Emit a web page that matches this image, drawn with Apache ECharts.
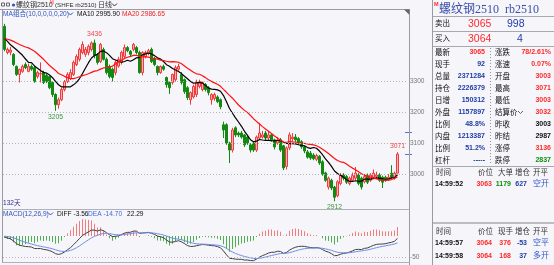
<!DOCTYPE html>
<html><head><meta charset="utf-8">
<script src="https://cdn.jsdelivr.net/npm/echarts@6/dist/echarts.min.js"></script>
<style>html,body{margin:0;padding:0;background:#f5f5fa;}#c{width:554px;height:265px;}</style>
</head><body><div id="c"></div>
<script>
// ---- data ----
const open = [3479,3394,3395,3388,3349,3323,3333,3355,3333,3349, 3345,3316,3324,3329,3320,3316,3297,3258,3225,3241, 3274,3300,3310,3323,3355,3372,3394,3388,3394,3404, 3425,3388,3365,3404,3372,3349,3340,3329,3350,3362, 3381,3410,3398,3404,3410,3394,3329,3381,3390,3404, 3375,3349,3329,3349,3313,3297,3297,3306,3340,3323, 3306,3280,3241,3250,3258,3284,3274,3290,3280,3241, 3245,3250,3241,3160,3160,3101,3078,3150,3133,3133, 3127,3120,3095,3101,3078,3117,3120,3133,3117,3127, 3111,3101,3111,3092,3025,3085,3115,3120,3115,3105, 3088,3072,3068,3062,3048,3058,3040,3004,2958,2980, 2958,2930,2970,2997,2992,2970,2980,2987,2997,2987, 2975,2995,2980,2990,2992,2997,2990,2990,2982,3003, 2990,3003];
const close = [3404,3404,3402,3355,3323,3339,3349,3345,3349,3340, 3300,3329,3326,3297,3300,3280,3258,3225,3241,3274, 3300,3323,3329,3362,3381,3404,3420,3404,3414,3425, 3385,3362,3420,3372,3329,3316,3313,3362,3372,3394, 3410,3400,3388,3420,3394,3329,3394,3394,3400,3365, 3355,3329,3349,3340,3290,3280,3323,3345,3349,3297, 3267,3248,3264,3284,3297,3300,3297,3274,3264,3258, 3258,3235,3218,3143,3101,3078,3143,3127,3127,3120, 3095,3101,3078,3078,3120,3133,3127,3117,3127,3111, 3088,3111,3078,3020,3085,3127,3120,3111,3101,3088, 3075,3055,3052,3050,3060,3036,3000,2980,2987,2955, 2925,2975,2997,2987,2974,2987,2995,3003,2970,2958, 2992,2974,2997,3003,2997,2980,2974,2980,2990,2990, 3003,3065];
const low = [3398,3388,3385,3350,3318,3297,3328,3340,3330,3335, 3296,3310,3297,3292,3295,3275,3250,3205,3212,3236, 3268,3295,3305,3318,3350,3365,3388,3380,3385,3398, 3375,3355,3360,3368,3323,3310,3300,3320,3345,3355, 3375,3395,3380,3398,3388,3325,3320,3375,3385,3360, 3350,3320,3325,3335,3280,3260,3290,3300,3335,3290, 3260,3240,3225,3245,3250,3278,3268,3268,3255,3225, 3238,3230,3210,3117,3095,3036,3070,3120,3120,3115, 3088,3095,3070,3072,3072,3110,3115,3110,3110,3105, 3080,3095,3072,3013,3015,3078,3105,3105,3095,3082, 3068,3050,3046,3045,3042,3030,2995,2975,2950,2948, 2912,2925,2964,2980,2968,2964,2975,2980,2964,2950, 2970,2968,2975,2985,2985,2975,2955,2975,2978,2985, 2982,3003];
const high = [3487,3410,3412,3392,3352,3342,3355,3362,3358,3355, 3350,3335,3362,3335,3325,3320,3300,3262,3248,3280, 3305,3330,3340,3368,3388,3410,3430,3412,3420,3430, 3436,3392,3425,3410,3378,3355,3345,3368,3380,3400, 3420,3415,3402,3425,3415,3400,3398,3400,3406,3410, 3380,3352,3352,3355,3316,3300,3326,3352,3358,3330, 3310,3285,3268,3290,3306,3306,3300,3295,3285,3262, 3264,3255,3245,3170,3165,3105,3150,3155,3138,3140, 3130,3125,3100,3105,3125,3166,3140,3140,3140,3133, 3115,3120,3117,3095,3090,3135,3133,3130,3120,3110, 3092,3078,3075,3068,3066,3062,3045,3008,2992,2985, 2962,2980,3003,3003,2997,2992,3005,3023,3003,2992, 3000,3002,3003,3015,3008,3003,2995,2995,3000,3029, 3008,3071];
// moving-average values before a full window exists
const ma10Head = [3440,3430,3419,3411,3403,3394,3385,3373,3362];
const ma20Head = [3440,3437,3434,3430,3425,3420,3416,3412,3409,3404,3398,3390,3381,3372,3362,3352,3344,3336,3326];
const priceTicks = [3000,3100,3200,3300];
const macdTicks = [0,-50];
const markHighIdx = [30,131];
const markLowIdx = [17,110];
const limitUp = 3136, lastPrice = 3065;

// ---- derived ----
const N = close.length;
const PAD = 3;
const cats = [];
for (let i = 0; i < N + PAD; i++) cats.push('d' + i);
function ma(n, head) {
  return close.map((c, i) => {
    if (i < n - 1) return head[i];
    let s = 0; for (let k = i - n + 1; k <= i; k++) s += close[k];
    return +(s / n).toFixed(2);
  });
}
const ma10 = ma(10, ma10Head), ma20 = ma(20, ma20Head);
// EMAs start from the average level shown by the MA lines at the first bar
let e12 = ma10Head[0], e26 = ma20Head[0], dea = e12 - e26;
const diff = [], deaArr = [], hist = [];
close.forEach((c) => {
  e12 += (c - e12) * 2 / 13; e26 += (c - e26) * 2 / 27;
  const d = e12 - e26;
  dea += (d - dea) * 2 / 10;
  diff.push(+d.toFixed(2)); deaArr.push(+dea.toFixed(2)); hist.push(+(2 * (d - dea)).toFixed(2));
});
const kData = open.map((o, i) => [o, close[i], low[i], high[i]]);

// ---- text helpers ----
const FF = '"Liberation Sans","Noto Sans CJK SC",sans-serif';
const RED = '#ff2a2a', BLUE = '#2340a8', GREEN = '#0a8f0a', BLK = '#111';
function T(x, y, text, fill, size, o) {
  return Object.assign({ type: 'text', x: x, y: y, silent: true, z: 100,
    style: Object.assign({ text: text, fill: fill, fontSize: size, fontFamily: FF, align: 'left', verticalAlign: 'middle' }, (o && o.style) || {}) }, (o && o.el) || {});
}
function L(x1, y1, x2, y2, stroke, st) {
  return { type: 'line', silent: true, z: 100, shape: { x1: x1, y1: y1, x2: x2, y2: y2 }, style: Object.assign({ stroke: stroke, lineWidth: 1 }, st || {}) };
}
function chev(x, y, c) {
  return { type: 'polyline', silent: true, z: 100, shape: { points: [[x, y - 1.5], [x + 2.5, y + 1], [x + 5, y - 1.5]] }, style: { stroke: c, lineWidth: 1, fill: null } };
}
const g = [];
// header
g.push({ type: 'rect', silent: true, z: 100, shape: { x: 1.5, y: 3, width: 3, height: 3 }, style: { stroke: '#666', fill: null, lineWidth: 1 } });
g.push({ type: 'rect', silent: true, z: 100, shape: { x: 6.5, y: 3, width: 3, height: 3 }, style: { stroke: '#666', fill: null, lineWidth: 1 } });
g.push({ type: 'circle', silent: true, z: 100, shape: { cx: 13.5, cy: 5, r: 1.6 }, style: { fill: '#2a55c8' } });
g.push(T(16, 5, '螺纹钢2510', '#333', 7));
g.push(T(50, 3, 'M', RED, 4.5));
g.push(T(55, 5, '(SHFE rb2510)', '#333', 6.2));
g.push(T(98, 5, '日线', '#333', 7));
g.push(chev(112, 5, '#333'));
g.push(T(3, 14, 'MA组合(10,0,0,0,0,20)', '#3355bb', 6.6));
g.push(chev(68, 14, '#3355bb'));
g.push(T(77, 14, 'MA10 2995.90', BLK, 6.6));
g.push(T(122, 14, 'MA20 2986.65', '#ee2020', 6.6));
g.push(T(3, 203, '132天', '#303090', 6.6));
g.push(T(3, 214, 'MACD(12,26,9)', '#3355bb', 6.6));
g.push(chev(48, 214, '#3355bb'));
g.push(T(57, 214, 'DIFF -3.56', BLK, 6.6));
g.push(T(88, 214, 'DEA -14.70', '#4466dd', 6.6));
g.push(T(127, 214, '22.29', BLK, 6.6));
// frame
g.push(L(0, 9.5, 409.5, 9.5, '#9a9aa2'));
g.push(L(409.5, 9, 409.5, 265, '#9a9aa2'));
g.push(L(2.5, 9, 2.5, 263, '#9a9aa2'));
g.push(L(2, 209.5, 409.5, 209.5, '#b0b0b8'));
g.push(L(2, 262.5, 409.5, 262.5, '#b0b0b8'));
g.push({ type: 'polygon', silent: true, z: 100, shape: { points: [[404, 9.5], [409.5, 9.5], [409.5, 15]] }, style: { fill: '#666' } });
// right panel
g.push(L(432.5, 0, 432.5, 265, '#9a9aa2'));
g.push(T(434, 4.5, 'M', RED, 5.5, { style: { fontWeight: 'bold' } }));
g.push(T(439, 9.5, '螺纹钢2510  rb2510', '#3a4fa8', 12, { style: { fontFamily: '"Liberation Serif","Noto Sans CJK SC",serif' } }));
g.push(L(433, 16.5, 554, 16.5, '#a8a8b0'));
g.push(T(435, 24, '卖出', BLK, 7.5));
g.push(T(468, 24, '3065', RED, 10.5));
g.push(T(507, 24, '998', BLUE, 10.5));
g.push(L(433, 31.5, 554, 31.5, '#a8a8b0'));
g.push(T(435, 39, '买入', BLK, 7.5));
g.push(T(468, 39, '3064', RED, 10.5));
g.push(T(517, 39, '4', BLUE, 10.5));
g.push(L(433, 46.5, 554, 46.5, '#a8a8b0'));
const rows = [
  ['最新', '3065', RED, '涨跌', '78/2.61%', RED],
  ['现手', '92', BLUE, '涨速', '0.07%', RED],
  ['总量', '2371284', BLUE, '开盘', '3003', RED],
  ['持仓', '2226379', BLUE, '最高', '3071', RED],
  ['日增', '150312', BLUE, '最低', '3003', RED],
  ['外盘', '1157897', BLUE, '结算价', '3032', RED],
  ['比例', '48.8%', BLUE, '昨收', '3003', BLK],
  ['内盘', '1213387', BLUE, '昨结', '2987', BLK],
  ['比例', '51.2%', BLUE, '涨停', '3136', RED],
  ['杠杆', '-----', BLUE, '跌停', '2837', GREEN]
];
rows.forEach((r, k) => {
  const y = 52.5 + 12 * k;
  g.push(T(435, y, r[0], BLK, 7.5));
  g.push(T(485, y, r[1], r[2], 7, { style: { align: 'right', fontWeight: 'bold' } }));
  g.push(T(495, y, r[3], BLK, 7.5));
  g.push(T(551, y, r[4], r[5], 7, { style: { align: 'right', fontWeight: 'bold' } }));
});
g.push(chev(518, 112.5, '#666'));
g.push(L(490.5, 48, 490.5, 165, '#9090a0', { lineDash: [1, 2] }));
g.push(L(433, 166.5, 554, 166.5, '#a8a8b0'));
function hdr(y, third) {
  g.push(T(436, y, '时间', '#333', 7.5));
  g.push(T(478, y, '价位', '#333', 7.5));
  g.push(T(498, y, third, '#333', 7.5));
  g.push(T(515, y, '增仓', '#333', 7.5));
  g.push(T(533, y, '开平', '#333', 7.5));
}
function trow(y, t, p, v, d, oc, vc) {
  g.push(T(435, y, t, BLK, 7, { style: { fontWeight: 'bold' } }));
  g.push(T(492, y, p, RED, 7, { style: { align: 'right', fontWeight: 'bold' } }));
  g.push(T(511, y, v, vc, 7, { style: { align: 'right', fontWeight: 'bold' } }));
  g.push(T(527, y, d, BLUE, 7, { style: { align: 'right', fontWeight: 'bold' } }));
  g.push(T(533, y, oc, '#3355cc', 8));
}
hdr(173, '大单');
trow(184, '14:59:52', '3063', '1179', '627', '空开', GREEN);
g.push(L(433, 223, 554, 223, '#a8a8b0', { lineWidth: 1.5 }));
hdr(232, '现手');
trow(243, '14:59:57', '3064', '376', '-53', '空平', RED);
trow(256, '14:59:58', '3064', '168', '37', '多开', RED);

const chart = echarts.init(document.getElementById('c'), null, { renderer: 'canvas' });
chart.setOption({
  backgroundColor: '#f5f5fa',
  animation: false,
  grid: [
    { left: 3, top: 9, width: 405, height: 200 },
    { left: 3, top: 209, width: 405, height: 53 }
  ],
  xAxis: [
    { type: 'category', data: cats, gridIndex: 0, boundaryGap: true, axisLine: { show: false }, axisTick: { show: false }, axisLabel: { show: false }, splitLine: { show: false } },
    { type: 'category', data: cats, gridIndex: 1, boundaryGap: true, axisLine: { show: false }, axisTick: { show: false }, axisLabel: { show: false }, splitLine: { show: false } }
  ],
  yAxis: [
    { type: 'value', gridIndex: 0, min: 2887, max: 3535, show: false, splitLine: { show: false } },
    { type: 'value', gridIndex: 1, min: -62, max: 64, show: false, splitLine: { show: false } }
  ],
  series: [
    {
      type: 'candlestick', xAxisIndex: 0, yAxisIndex: 0, data: kData, barWidth: 2,
      itemStyle: { color: '#f6b2b9', color0: '#128a12', borderColor: '#f23a3a', borderColor0: '#128a12', borderWidth: 1 },
      markLine: {
        silent: true, symbol: ['none', 'none'], animation: false,
        lineStyle: { color: '#b4b4bc', type: [1, 2], width: 1 },
        label: { show: true, position: 'end', formatter: '{c}', color: '#777', fontSize: 6.5, distance: 2, fontFamily: FF },
        data: priceTicks.map(v => ({ yAxis: v }))
      },
      markPoint: {
        symbol: 'rect', symbolSize: 1, silent: true, animation: false,
        itemStyle: { color: 'rgba(0,0,0,0)' },
        label: { show: true, fontSize: 6.8, formatter: '{c}', distance: 2, fontFamily: FF },
        data: markHighIdx.map(i => ({ coord: [cats[i], high[i]], value: high[i], label: { position: 'top', color: '#f04a4a' } }))
          .concat(markLowIdx.map(i => ({ coord: [cats[i], low[i]], value: low[i], label: { position: 'bottom', color: '#3a9a3a' } })))
      }
    },
    { type: 'line', name: 'MA10', data: ma10, xAxisIndex: 0, yAxisIndex: 0, showSymbol: false, symbol: 'none', lineStyle: { color: '#000', width: 1.2 }, silent: true },
    { type: 'line', name: 'MA20', data: ma20, xAxisIndex: 0, yAxisIndex: 0, showSymbol: false, symbol: 'none', lineStyle: { color: '#ff1010', width: 1.2 }, silent: true },
    {
      type: 'custom', xAxisIndex: 0, yAxisIndex: 0, silent: true, data: [[0, limitUp], [0, lastPrice]],
      renderItem: function (params, api) {
        const y = Math.round(api.coord([0, api.value(1)])[1]) + 0.5;
        const cs = params.coordSys; const x = cs.x + cs.width;
        return { type: 'line', shape: { x1: x - 3, y1: y, x2: x + 4, y2: y }, style: { stroke: '#5a70dc', lineWidth: 1 } };
      }
    },
    {
      type: 'bar', xAxisIndex: 1, yAxisIndex: 1, data: hist, barWidth: 1, silent: true,
      itemStyle: { color: p => p.value >= 0 ? '#f27c7c' : '#4fae4f' },
      markLine: {
        silent: true, symbol: ['none', 'none'], animation: false,
        lineStyle: { color: '#b4b4bc', type: [1, 2], width: 1 },
        label: { show: true, position: 'end', formatter: '{c}', color: '#777', fontSize: 6.5, distance: 2, fontFamily: FF },
        data: macdTicks.map(v => ({ yAxis: v, lineStyle: { opacity: v === 0 ? 0 : 1 } }))
      }
    },
    { type: 'line', name: 'DIFF', data: diff, xAxisIndex: 1, yAxisIndex: 1, showSymbol: false, symbol: 'none', lineStyle: { color: '#404040', width: 1 }, silent: true },
    { type: 'line', name: 'DEA', data: deaArr, xAxisIndex: 1, yAxisIndex: 1, showSymbol: false, symbol: 'none', lineStyle: { color: '#6f8ee8', width: 1 }, silent: true }
  ],
  graphic: g
});
</script>
</body></html>
